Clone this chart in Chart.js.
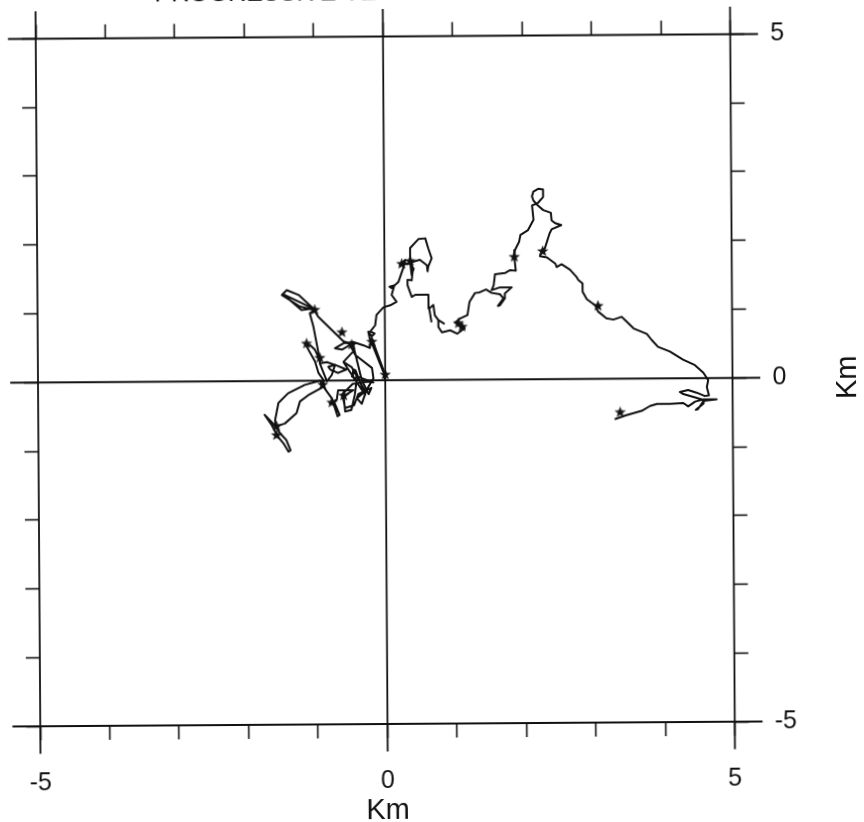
<!DOCTYPE html>
<html>
<head>
<meta charset="utf-8">
<title>Track</title>
<script src="https://cdn.jsdelivr.net/npm/chart.js@4"></script>
<style>
  html, body { margin: 0; background: #fff; overflow: hidden; width: 864px; height: 822px; }
  #scan { position: absolute; left: 0; top: 0; width: 864px; height: 822px; transform: rotate(-0.38deg); transform-origin: 385px 380px; }
  #head { position: absolute; left: 157px; top: -23px; font: 25px "Liberation Sans", Arial, sans-serif; color: #111; white-space: nowrap; }
</style>
</head>
<body>
<div id="scan">
  <canvas id="trackChart" width="864" height="822"></canvas>
  <div id="head">PROGRESSIVE VEC</div>
</div>
<script>
// Axis values (km)
const axisMin = -5;
const axisMax = 5;
const labelledTicks = [-5, 0, 5];
const guideAt = [-5, 0, 5];
const guideEnds = [-5.4, 5.4];

// Track (km east, km north)
const trackEast = [
  [3.30,-.59],[3.47,-.53],[3.69,-.47],[3.81,-.40],[3.91,-.37],[4.10,-.37],[4.29,-.36],[4.36,-.41],[4.46,-.34],[4.58,-.31],
  [4.77,-.31],[4.58,-.33],[4.50,-.45],[4.47,-.46],[4.58,-.37],[4.59,-.32],[4.46,-.28],[4.29,-.23],[4.24,-.20],[4.36,-.17],
  [4.48,-.21],[4.60,-.26],[4.66,-.25],[4.63,-.13],[4.65,-.03],[4.58,.08],[4.46,.19],[4.29,.27],[4.10,.39],[3.93,.46],
  [3.84,.56],[3.77,.65],[3.58,.73],[3.46,.85],[3.41,.90],[3.29,.86],[3.19,.88],[3.07,.98],[3.03,1.07],[2.91,1.16],
  [2.85,1.27],[2.85,1.39],[2.79,1.44],[2.76,1.49],[2.67,1.59],[2.55,1.67],[2.48,1.63],[2.46,1.68],[2.34,1.77],[2.24,1.79],
  [2.27,1.88],[2.31,1.90],[2.38,2.12],[2.41,2.18],[2.55,2.24],[2.46,2.27],[2.41,2.31],[2.40,2.42],[2.29,2.46],[2.21,2.53],
  [2.15,2.60],[2.13,2.66],[2.15,2.73],[2.22,2.77],[2.29,2.76],[2.29,2.65],[2.21,2.56],[2.13,2.53],[2.15,2.32],[2.07,2.17],
  [1.96,2.10],[1.94,2.00],[1.88,1.88],[1.87,1.78],[1.89,1.58],[1.81,1.59],[1.74,1.55],[1.59,1.53],[1.57,1.37],[1.54,1.30],
  [1.66,1.34],[1.83,1.34],[1.73,1.25],[1.73,1.18],[1.66,1.08],[1.63,1.07],[1.71,1.18],[1.66,1.24],[1.54,1.26],[1.46,1.31],
  [1.37,1.27],[1.30,1.26],[1.22,1.13],[1.19,.94],[1.08,.89],[1.01,.83]
];
const trackMiddle = [
  [1.06,.82],[1.15,.75],[1.04,.67],[.94,.72],[.82,.69],[.77,.77],[.77,.87],[.85,.82],[.77,.87],[.72,.94],
  [.70,1.09],[.64,1.04],[.67,.85],[.64,1.04],[.63,1.24],[.44,1.24],[.39,1.21],[.33,1.38],[.33,1.46],[.39,1.45],
  [.41,1.62],[.37,1.75],[.37,1.92],[.49,2.05],[.59,2.06],[.63,1.92],[.68,1.77],[.63,1.65],[.62,1.58],[.61,1.67],
  [.51,1.75],[.37,1.71],[.39,1.53],[.42,1.62],[.36,1.70],[.22,1.67],[.30,1.75],[.27,1.63],[.20,1.43],[.10,1.34],
  [.07,1.36],[.14,1.38],[.10,1.24],[.17,1.14],[.08,1.09],[-.02,1.06],[-.12,.95],[-.14,.80]
];
const trackWest = [
  [-.21,.71],[-.15,.68],[-.19,.64],[-.24,.71],[-.22,.61],[-.19,.54],[-.03,.13],[0,.08],[-.01,0],[0,.08],
  [-.19,.61],[-.22,.47],[-.31,.51],[-.46,.56],[-.60,.54],[-.72,.47],[-.62,.45],[-.50,.52],[-.48,.47],[-.43,.37],
  [-.19,.18],[-.17,.03],[-.27,-.14],[-.34,-.34],[-.41,-.26],[-.29,-.16],[-.48,.19],[-.60,.27],[-.46,.42],[-.60,.27],
  [-.55,.19],[-.29,-.21],[-.43,.15],[-.48,.06],[-.41,.01],[-.44,-.21],[-.49,-.43],[-.58,-.45],[-.60,-.23],[-.46,-.14],
  [-.68,-.14],[-.70,-.28],[-.80,-.33],[-.73,-.33],[-.66,-.50],[-.69,-.52],[-.77,-.26],[-.89,-.09],[-.94,0],[-1.16,-.06],
  [-1.40,-.18],[-1.54,-.32],[-1.59,-.57],[-1.58,-.66],[-1.74,-.49],[-1.64,-.64],[-1.55,-.81],[-1.47,-.91],[-1.40,-1.03],[-1.37,-1.01],
  [-1.43,-.86],[-1.52,-.76],[-1.58,-.66],[-1.45,-.62],[-1.28,-.47],[-1.23,-.30],[-1.11,-.21],[-.89,-.09],[-.89,.01],[-.96,.11],
  [-1.01,.28],[-1.13,.50],[-1.08,.52],[-1.01,.45],[-.94,.30],[-.94,.25],[-.84,.27],[-.70,.22],[-.56,.16],[-.68,.11],
  [-.79,.16],[-.82,.20],[-.72,.23],[-.77,.08],[-.84,-.01],[-.94,.25],[-.94,.30],[-1.03,.79],[-1.08,.98],[-1.01,1.03],
  [-1.22,1.08],[-1.48,1.25],[-1.41,1.32],[-1.24,1.25],[-1.03,1.05],[-1.20,1.03],[-1.46,1.26],[-1.03,1.05],[-.96,.93],[-.60,.57],
  [-.46,.52],[-.34,.01],[-.24,-.20],[-.20,-.11],[-.39,-.20],[-.45,-.36],[-.58,-.40],[-.62,-.20],[-.47,-.05],[-.25,-.02],
  [-.17,-.03],[-.41,.06],[-.44,.01],[-.47,.08],[-.46,.16],[-.43,.15],[-.41,.06]
];

// Star markers along the track
const starPoints = [
  [3.38,-.49],[3.07,1.06],[2.28,1.86],[1.87,1.78],[1.06,.82],[1.11,.77],[.37,1.73],[.25,1.69],
  [0,.08],[-.19,.56],[-.48,.52],[-.62,.70],[-1.01,1.03],[-1.13,.54],[-.94,.33],[-.90,-.06],
  [-.77,-.32],[-.60,-.22],[-1.57,-.66],[-1.57,-.79]
];

const trackPoints = trackEast.concat(trackMiddle, trackWest);

const ink = '#111';
const font = { family: '"Liberation Sans", Arial, sans-serif', size: 25 };

// five point star for the markers
function makeStar(size) {
  const c = document.createElement('canvas');
  c.width = c.height = size;
  const g = c.getContext('2d');
  const r = size / 2 - 0.5;
  g.beginPath();
  for (let i = 0; i < 10; i++) {
    const rad = i % 2 ? r * 0.42 : r;
    const a = -Math.PI / 2 + i * Math.PI / 5;
    g.lineTo(size / 2 + rad * Math.cos(a), size / 2 + rad * Math.sin(a));
  }
  g.closePath();
  g.fillStyle = ink;
  g.fill();
  return c;
}

function toXY(p) { return { x: p[0], y: p[1] }; }

function guideSet(points) {
  return {
    type: 'scatter', data: points, showLine: true, clip: false,
    borderColor: ink, borderWidth: 1.8, pointRadius: 0, order: 3
  };
}

const datasets = [
  {
    type: 'scatter', label: 'track', data: trackPoints.map(toXY), showLine: true,
    borderColor: ink, borderWidth: 2, borderJoinStyle: 'round', pointRadius: 0, tension: 0, order: 1
  },
  {
    type: 'scatter', label: 'stars', data: starPoints.map(toXY),
    pointStyle: makeStar(13), pointRadius: 6, order: 0
  }
];
guideAt.forEach(v => {
  datasets.push(guideSet(guideEnds.map(e => ({ x: v, y: e }))));
  datasets.push(guideSet(guideEnds.map(e => ({ x: e, y: v }))));
});

function kmAxis(position, size, showLabels, padding) {
  return {
    type: 'linear', position: position, min: axisMin, max: axisMax,
    afterFit: s => {
      if (s.isHorizontal()) s.height = size; else s.width = size;
      // label overhang would otherwise push the plot area in
      s.paddingTop = s.paddingBottom = s.paddingLeft = s.paddingRight = 0;
    },
    border: { display: false },
    grid: { drawOnChartArea: false, drawTicks: true, tickLength: 14, tickColor: ink, tickWidth: 1.6 },
    ticks: {
      display: showLabels, stepSize: 1, autoSkip: false, maxRotation: 0, padding: padding,
      color: ink, font: font,
      callback: v => labelledTicks.includes(v) ? String(v) : ''
    }
  };
}

const xAxis = kmAxis('bottom', 98, true, 28);
xAxis.title = { display: true, text: 'Km', color: ink, font: { family: font.family, size: 29 }, padding: { top: 0, bottom: -6 } };

// the right hand Km reads upwards, the library would turn it the other way
const sideTitle = {
  id: 'sideTitle',
  afterDraw(chart) {
    const g = chart.ctx;
    g.save();
    g.translate(chart.chartArea.right + 115, (chart.chartArea.top + chart.chartArea.bottom) / 2);
    g.rotate(-Math.PI / 2);
    g.fillStyle = ink;
    g.font = '29px "Liberation Sans", Arial, sans-serif';
    g.textAlign = 'center';
    g.textBaseline = 'middle';
    g.fillText('Km', 0, 0);
    g.restore();
  }
};

new Chart(document.getElementById('trackChart').getContext('2d'), {
  data: { datasets: datasets },
  plugins: [sideTitle],
  options: {
    responsive: false,
    animation: false,
    layout: { padding: 0 },
    plugins: { legend: { display: false }, title: { display: false }, tooltip: { enabled: false } },
    scales: {
      x: xAxis,
      xTop: kmAxis('top', 36.5, false, 0),
      y: kmAxis('left', 38, false, 0),
      yRight: kmAxis('right', 131.5, true, 26)
    }
  }
});
</script>
</body>
</html>
